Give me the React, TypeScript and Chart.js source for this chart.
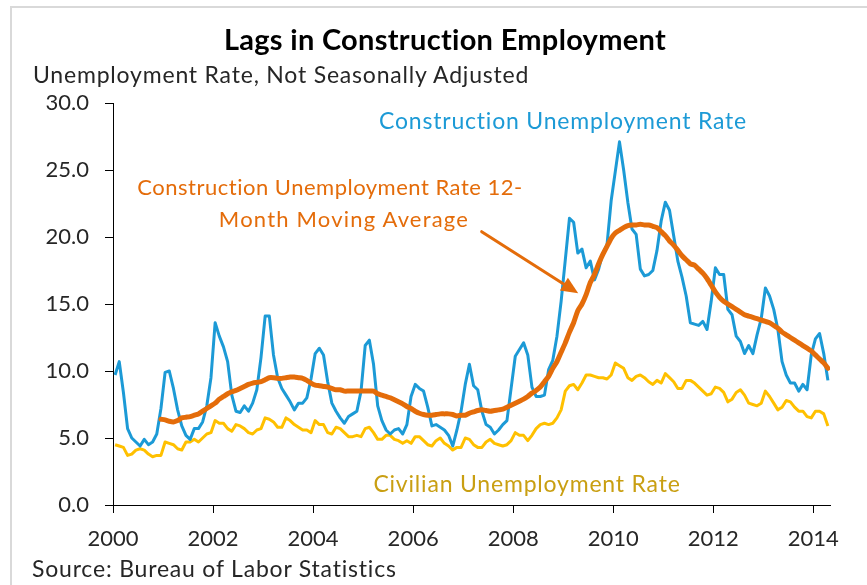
import React, { useEffect, useRef } from "react";
import { Chart, registerables } from "chart.js";

Chart.register(...registerables);

// ---- data (monthly, Jan 2000 – Apr 2014) ----
const START_YEAR = 2000;
const END_YEAR_FRACTION = 2014 + 4 / 12; // axis ends after Apr 2014

const constructionRate = [
  9.7, 10.7, 8.4, 5.7, 5.0, 4.7, 4.4, 4.9, 4.5, 4.7, 5.3, 7.2, // 2000
  9.9, 10.0, 8.7, 7.1, 5.9, 5.2, 4.9, 5.7, 5.7, 6.2, 7.4, 9.5, // 2001
  13.6, 12.6, 11.8, 10.7, 8.2, 7.0, 6.9, 7.4, 7.0, 7.6, 8.6, 11.0, // 2002
  14.1, 14.1, 11.2, 9.5, 8.7, 8.2, 7.7, 7.1, 7.6, 7.6, 8.0, 9.4, // 2003
  11.3, 11.7, 11.2, 9.2, 7.6, 7.0, 6.5, 6.1, 6.6, 6.8, 7.0, 8.5, // 2004
  11.9, 12.3, 10.5, 7.4, 6.3, 5.6, 5.3, 5.6, 5.7, 5.3, 6.0, 8.1, // 2005
  9.0, 8.7, 8.5, 7.3, 5.9, 6.0, 5.8, 5.6, 5.2, 4.4, 5.6, 7.0, // 2006
  9.0, 10.5, 8.9, 8.6, 7.0, 6.0, 5.8, 5.3, 5.6, 6.0, 6.3, 8.7, // 2007
  11.1, 11.6, 12.1, 11.2, 8.8, 8.1, 8.1, 8.2, 10.1, 10.8, 12.6, 15.2, // 2008
  18.3, 21.4, 21.1, 18.8, 19.1, 17.7, 18.2, 16.8, 17.6, 18.8, 19.4, 22.7, // 2009
  24.9, 27.1, 25.0, 22.6, 20.6, 20.2, 17.6, 17.1, 17.2, 17.5, 19.0, 21.2, // 2010
  22.6, 22.0, 20.1, 18.2, 17.0, 15.6, 13.6, 13.5, 13.4, 13.7, 13.1, 15.2, // 2011
  17.7, 17.2, 17.2, 14.6, 14.2, 12.6, 12.2, 11.3, 11.9, 11.3, 12.7, 13.9, // 2012
  16.2, 15.6, 14.6, 13.1, 10.7, 9.7, 9.1, 9.1, 8.5, 9.0, 8.6, 11.2, // 2013
  12.4, 12.8, 11.3, 9.3, // 2014
];

const movingAverage12 = [
  null, null, null, null, null, null, null, null, null, null, null, 6.4, // 2000
  6.35, 6.25, 6.2, 6.3, 6.5, 6.55, 6.6, 6.7, 6.8, 7.0, 7.2, 7.4, // 2001
  7.6, 7.9, 8.1, 8.3, 8.45, 8.55, 8.7, 8.85, 9.0, 9.1, 9.15, 9.2, // 2002
  9.35, 9.5, 9.5, 9.45, 9.45, 9.5, 9.55, 9.55, 9.5, 9.45, 9.3, 9.1, // 2003
  8.95, 8.9, 8.85, 8.8, 8.7, 8.6, 8.6, 8.5, 8.5, 8.5, 8.5, 8.5, // 2004
  8.5, 8.5, 8.5, 8.3, 8.2, 8.1, 8.0, 7.85, 7.7, 7.55, 7.35, 7.2, // 2005
  7.0, 6.85, 6.75, 6.7, 6.7, 6.75, 6.8, 6.8, 6.8, 6.75, 6.65, 6.7, // 2006
  6.7, 6.85, 6.95, 7.05, 7.1, 7.05, 7.0, 7.05, 7.1, 7.15, 7.3, 7.45, // 2007
  7.6, 7.75, 7.9, 8.1, 8.35, 8.55, 8.8, 9.2, 9.6, 10.2, 10.7, 11.4, // 2008
  12.1, 12.9, 13.6, 14.5, 15.0, 15.7, 16.6, 17.2, 18.0, 18.7, 19.3, 19.9, // 2009
  20.3, 20.5, 20.7, 20.85, 20.9, 20.9, 20.95, 20.9, 20.9, 20.8, 20.7, 20.4, // 2010
  20.1, 19.7, 19.4, 19.0, 18.6, 18.3, 18.0, 17.9, 17.6, 17.3, 16.9, 16.4, // 2011
  15.9, 15.5, 15.2, 15.0, 14.8, 14.6, 14.4, 14.2, 14.1, 14.0, 13.9, 13.8, // 2012
  13.7, 13.6, 13.4, 13.2, 12.9, 12.7, 12.5, 12.3, 12.1, 11.9, 11.7, 11.5, // 2013
  11.2, 10.9, 10.6, 10.2, // 2014
];

const civilianRate = [
  4.5, 4.4, 4.3, 3.7, 3.8, 4.1, 4.2, 4.1, 3.8, 3.6, 3.7, 3.7, // 2000
  4.7, 4.6, 4.5, 4.2, 4.1, 4.7, 4.7, 4.9, 4.7, 5.0, 5.3, 5.4, // 2001
  6.3, 6.1, 6.1, 5.7, 5.5, 6.0, 5.9, 5.7, 5.4, 5.3, 5.6, 5.7, // 2002
  6.5, 6.4, 6.2, 5.8, 5.8, 6.5, 6.3, 6.0, 5.8, 5.6, 5.6, 5.4, // 2003
  6.3, 6.0, 6.0, 5.4, 5.3, 5.8, 5.7, 5.4, 5.1, 5.1, 5.2, 5.1, // 2004
  5.7, 5.8, 5.4, 4.9, 4.9, 5.2, 5.2, 4.9, 4.8, 4.6, 4.8, 4.6, // 2005
  5.1, 5.1, 4.8, 4.5, 4.4, 4.8, 5.0, 4.6, 4.4, 4.1, 4.3, 4.3, // 2006
  5.0, 4.9, 4.5, 4.3, 4.3, 4.7, 4.9, 4.6, 4.5, 4.4, 4.5, 4.8, // 2007
  5.4, 5.2, 5.2, 4.8, 5.2, 5.7, 6.0, 6.1, 6.0, 6.1, 6.5, 7.1, // 2008
  8.5, 8.9, 9.0, 8.6, 9.1, 9.7, 9.7, 9.6, 9.5, 9.5, 9.4, 9.7, // 2009
  10.6, 10.4, 10.2, 9.5, 9.3, 9.6, 9.7, 9.5, 9.2, 9.0, 9.3, 9.1, // 2010
  9.8, 9.5, 9.2, 8.7, 8.7, 9.3, 9.3, 9.1, 8.8, 8.5, 8.2, 8.3, // 2011
  8.8, 8.7, 8.4, 7.7, 7.9, 8.4, 8.6, 8.2, 7.6, 7.5, 7.4, 7.6, // 2012
  8.5, 8.1, 7.6, 7.1, 7.3, 7.8, 7.7, 7.3, 7.0, 7.0, 6.6, 6.5, // 2013
  7.0, 7.0, 6.8, 5.9, // 2014
];

const xTickYears = [2000, 2002, 2004, 2006, 2008, 2010, 2012, 2014];
const yTickValues = [0, 5, 10, 15, 20, 25, 30];

// arrow annotation anchored in data space: [year, rate]
const ARROW_FROM = [2007.37, 20.4];
const ARROW_TO = [2009.3, 15.8];

// ---- styles ----
const BLUE = "#1C9AD6";
const ORANGE = "#E46C0A";
const YELLOW = "#FFC000";
const YELLOW_TEXT = "#C99F12";
const TEXT = "#262626";
const FONT = "Lato, 'Open Sans', sans-serif";

const monthX = (i: number) => START_YEAR + (i + 0.5) / 12;
const toPoints = (arr: (number | null)[]) => arr.map((v, i) => ({ x: monthX(i), y: v }));

const arrowPlugin = {
  id: "arrowAnnotation",
  afterDatasetsDraw(chart: any) {
    const { ctx, scales } = chart;
    const xs = scales.x;
    const ys = scales.y;
    const x1 = xs.getPixelForValue(ARROW_FROM[0]);
    const y1 = ys.getPixelForValue(ARROW_FROM[1]);
    const x2 = xs.getPixelForValue(ARROW_TO[0]);
    const y2 = ys.getPixelForValue(ARROW_TO[1]);
    const ang = Math.atan2(y2 - y1, x2 - x1);
    const headLen = 17;
    const headW = 7.5;
    const bx = x2 - headLen * Math.cos(ang);
    const by = y2 - headLen * Math.sin(ang);
    ctx.save();
    ctx.strokeStyle = ORANGE;
    ctx.fillStyle = ORANGE;
    ctx.lineWidth = 3;
    ctx.lineCap = "round";
    ctx.beginPath();
    ctx.moveTo(x1, y1);
    ctx.lineTo(bx + 2 * Math.cos(ang), by + 2 * Math.sin(ang));
    ctx.stroke();
    ctx.beginPath();
    ctx.moveTo(x2, y2);
    ctx.lineTo(bx + headW * Math.sin(ang), by - headW * Math.cos(ang));
    ctx.lineTo(bx - headW * Math.sin(ang), by + headW * Math.cos(ang));
    ctx.closePath();
    ctx.fill();
    ctx.restore();
  },
};

function Label(props: {
  text: string;
  cx?: number;
  left?: number;
  capY: number;
  size: number;
  color: string;
  bold?: boolean;
  spacing?: number;
}) {
  const { text, cx, left, capY, size, color, bold, spacing } = props;
  const top = capY - 0.53 * size;
  const style: React.CSSProperties = {
    position: "absolute",
    top,
    fontFamily: FONT,
    fontSize: size,
    lineHeight: `${size}px`,
    fontWeight: bold ? 700 : 400,
    letterSpacing: spacing ? `${spacing}px` : undefined,
    color,
    whiteSpace: "nowrap",
  };
  if (cx !== undefined) {
    style.left = cx - 400;
    style.width = 800;
    style.textAlign = "center";
  } else {
    style.left = left;
  }
  return <div style={style}>{text}</div>;
}

export default function App() {
  const canvasRef = useRef<HTMLCanvasElement | null>(null);

  useEffect(() => {
    if (!canvasRef.current) return;
    const tickFont = { family: FONT, size: 22 };
    const chart = new Chart(canvasRef.current, {
      type: "line",
      data: {
        datasets: [
          {
            label: "Construction Unemployment Rate 12-Month Moving Average",
            data: toPoints(movingAverage12),
            borderColor: ORANGE,
            borderWidth: 5,
            pointRadius: 0,
            tension: 0.2,
            borderJoinStyle: "round",
            borderCapStyle: "round",
          },
          {
            label: "Construction Unemployment Rate",
            data: toPoints(constructionRate),
            borderColor: BLUE,
            borderWidth: 3,
            pointRadius: 0,
            tension: 0,
            borderJoinStyle: "round",
          },
          {
            label: "Civilian Unemployment Rate",
            data: toPoints(civilianRate),
            borderColor: YELLOW,
            borderWidth: 3,
            pointRadius: 0,
            tension: 0,
            borderJoinStyle: "round",
          },
        ],
      } as any,
      options: {
        animation: false,
        responsive: false,
        maintainAspectRatio: false,
        parsing: false as any,
        layout: { padding: { left: 0, top: 103, right: 37, bottom: 0 } },
        plugins: {
          legend: { display: false },
          tooltip: { enabled: false },
          title: { display: false },
        },
        scales: {
          x: {
            type: "linear",
            min: START_YEAR,
            max: END_YEAR_FRACTION,
            afterBuildTicks: (scale: any) => {
              scale.ticks = xTickYears.map((v) => ({ value: v }));
            },
            afterFit: (scale: any) => {
              scale.height = 80;
            },
            ticks: {
              font: tickFont,
              color: TEXT,
              padding: 13,
              maxRotation: 0,
              autoSkip: false,
              callback: (v: any) => String(v),
            },
            grid: {
              display: true,
              drawOnChartArea: false,
              drawTicks: true,
              tickLength: 8,
              color: "#000",
              lineWidth: 1,
            },
            border: { display: true, color: "#000", width: 1 },
          },
          y: {
            type: "linear",
            min: 0,
            max: 30,
            afterBuildTicks: (scale: any) => {
              scale.ticks = yTickValues.map((v) => ({ value: v }));
            },
            afterFit: (scale: any) => {
              scale.width = 113;
            },
            ticks: {
              font: tickFont,
              color: TEXT,
              padding: 16,
              callback: (v: any) => Number(v).toFixed(1),
            },
            grid: {
              display: true,
              drawOnChartArea: false,
              drawTicks: true,
              tickLength: 8,
              color: "#000",
              lineWidth: 1,
            },
            border: { display: true, color: "#000", width: 1 },
          },
        },
      } as any,
      plugins: [arrowPlugin],
    });
    return () => chart.destroy();
  }, []);

  return (
    <div
      style={{
        position: "fixed",
        left: 0,
        top: 0,
        width: 867,
        height: 585,
        background: "#fff",
        overflow: "hidden",
      }}
    >
      <div
        style={{
          position: "absolute",
          left: 10,
          top: 6,
          width: 1000,
          height: 1000,
          borderLeft: "2px solid #d9d9d9",
          borderTop: "2px solid #d9d9d9",
        }}
      />
      <canvas
        ref={canvasRef}
        width={867}
        height={585}
        style={{ position: "absolute", left: 0, top: 0, width: 867, height: 585 }}
      />
      <Label text="Lags in Construction Employment" cx={445} capY={39.5} size={29} spacing={0.3} color="#000" bold />
      <Label text="Unemployment Rate, Not Seasonally Adjusted" left={33} capY={75} size={23} spacing={0.8} color={TEXT} />
      <Label text="Construction Unemployment Rate" cx={563} capY={121} size={23} spacing={0.8} color={BLUE} />
      <Label text="Construction Unemployment Rate 12-" cx={330} capY={188} size={22} spacing={0.5} color={ORANGE} />
      <Label text="Month Moving Average" cx={344} capY={220} size={22} spacing={1.2} color={ORANGE} />
      <Label text="Civilian Unemployment Rate" cx={527} capY={484} size={23} spacing={0.8} color={YELLOW_TEXT} />
      <Label text="Source: Bureau of Labor Statistics" left={32} capY={569} size={23} spacing={0.8} color={TEXT} />
    </div>
  );
}
